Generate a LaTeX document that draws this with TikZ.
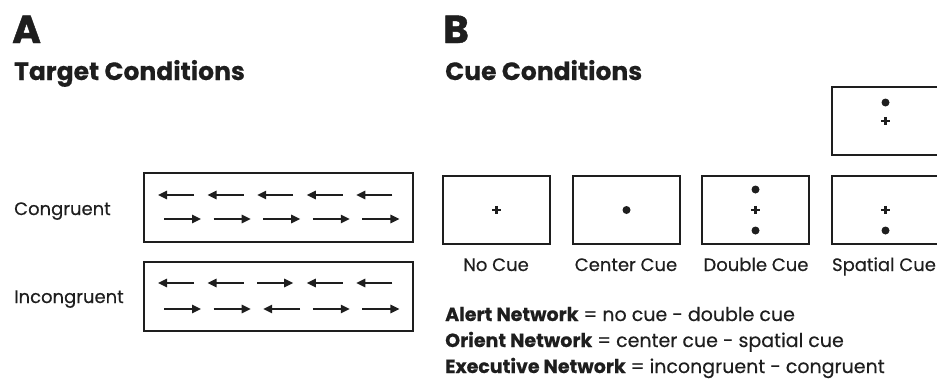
\documentclass[tikz,border=0pt]{standalone}
\usepackage{fontspec}
\setmainfont{Poppins}[FakeBold=0.4]
\newfontfamily\heavy{Poppins}[FakeBold=1.2]
\usetikzlibrary{arrows.meta}
\definecolor{ink}{HTML}{1E1E1E}
\begin{document}
\begin{tikzpicture}[x=1pt,y=-1pt,
  frame/.style={draw=ink, line width=1.3pt, minimum width=#1, inner sep=0pt, outer sep=0pt},
  tbox/.style={frame=269pt, minimum height=69pt, anchor=north west},
  cbox/.style={frame=107pt, minimum height=68pt, anchor=north west},
  arr/.style={draw=ink, line width=1.5pt, -{Triangle[length=9pt,width=8.5pt]}},
  big/.style={font=\fontsize{39}{40}\heavy\bfseries\selectfont, text=ink, inner sep=0pt, anchor=base west},
  head/.style={font=\fontsize{25}{27}\bfseries\selectfont, text=ink, inner sep=0pt, anchor=base west},
  lbl/.style={font=\fontsize{18}{20}\selectfont, text=ink, inner sep=0pt},
  net/.style={font=\fontsize{19}{21}\selectfont, text=ink, inner sep=0pt, anchor=base west},
  dotc/.style={fill=ink},
  plusc/.style={draw=ink, line width=2.6pt}]
\useasboundingbox (0,0) rectangle (937,378);
\clip (0,0) rectangle (937,378);
% Headings
\node[big] (A) at (12,43) {A};
\node[head] (tA) at (14,80) {Target Conditions};
\node[big] (B) at (443,43) {B};
\node[head] (tB) at (445,80) {Cue Conditions};
% Target boxes
\node[tbox] (cong) at (144,173) {};
\node[tbox] (incong) at (144,262) {};
\node[lbl, anchor=base west] (lc) at (14,215) {Congruent};
\node[lbl, anchor=base west] (li) at (14,303) {Incongruent};
% Congruent arrows
\foreach \i in {0,...,4} {
  \draw[arr] ({194+49.6*\i},195) -- ({158+49.6*\i},195);
  \draw[arr] ({164+49.6*\i},219) -- ({201+49.6*\i},219);
}
% Incongruent arrows
\foreach \d [count=\i from 0] in {-1,-1,1,-1,-1} {
  \ifnum\d<0
    \draw[arr] ({194+49.6*\i},283) -- ({158+49.6*\i},283);
  \else
    \draw[arr] ({158+49.6*\i},283) -- ({194+49.6*\i},283);
  \fi
}
\foreach \d [count=\i from 0] in {1,1,-1,1,1} {
  \ifnum\d<0
    \draw[arr] ({201+49.6*\i},309) -- ({164+49.6*\i},309);
  \else
    \draw[arr] ({164+49.6*\i},309) -- ({201+49.6*\i},309);
  \fi
}
% Cue boxes
\node[cbox] (nocue) at (443,176) {};
\node[cbox] (center) at (573,176) {};
\node[cbox] (double) at (702,176) {};
\node[cbox] (spatial) at (832,176) {};
\node[cbox] (spatialtop) at (832,87) {};
% Markers
\draw[plusc] (nocue.center) ++(-4.2,0) -- ++(8.4,0) (nocue.center) ++(0,-4.2) -- ++(0,8.4);
\fill[dotc] (center.center) circle (4);
\fill[dotc] (double.center) ++(0,-20.5) circle (4);
\fill[dotc] (double.center) ++(0,20.5) circle (4);
\draw[plusc] (double.center) ++(-4.2,0) -- ++(8.4,0) (double.center) ++(0,-4.2) -- ++(0,8.4);
\draw[plusc] (spatial.center) ++(-4.2,0) -- ++(8.4,0) (spatial.center) ++(0,-4.2) -- ++(0,8.4);
\fill[dotc] (spatial.center) ++(0,20.5) circle (4);
\draw[plusc] (spatialtop.center) ++(-4.2,0) -- ++(8.4,0) (spatialtop.center) ++(0,-4.2) -- ++(0,8.4);
\fill[dotc] (spatialtop.center) ++(0,-18.5) circle (4);
% Cue labels
\node[lbl, anchor=base] (lnc) at (496,271) {No Cue};
\node[lbl, anchor=base] (lcc) at (626,271) {Center Cue};
\node[lbl, anchor=base] (ldc) at (756,271) {Double Cue};
\node[lbl, anchor=base] (lsc) at (884,271) {Spatial Cue};
% Network definitions
\node[net] (n1) at (445,321) {\textbf{Alert Network} = no cue - double cue};
\node[net] (n2) at (445,347) {\textbf{Orient Network} = center cue - spatial cue};
\node[net] (n3) at (445,373) {\textbf{Executive Network} = incongruent - congruent};
\end{tikzpicture}
\end{document}
